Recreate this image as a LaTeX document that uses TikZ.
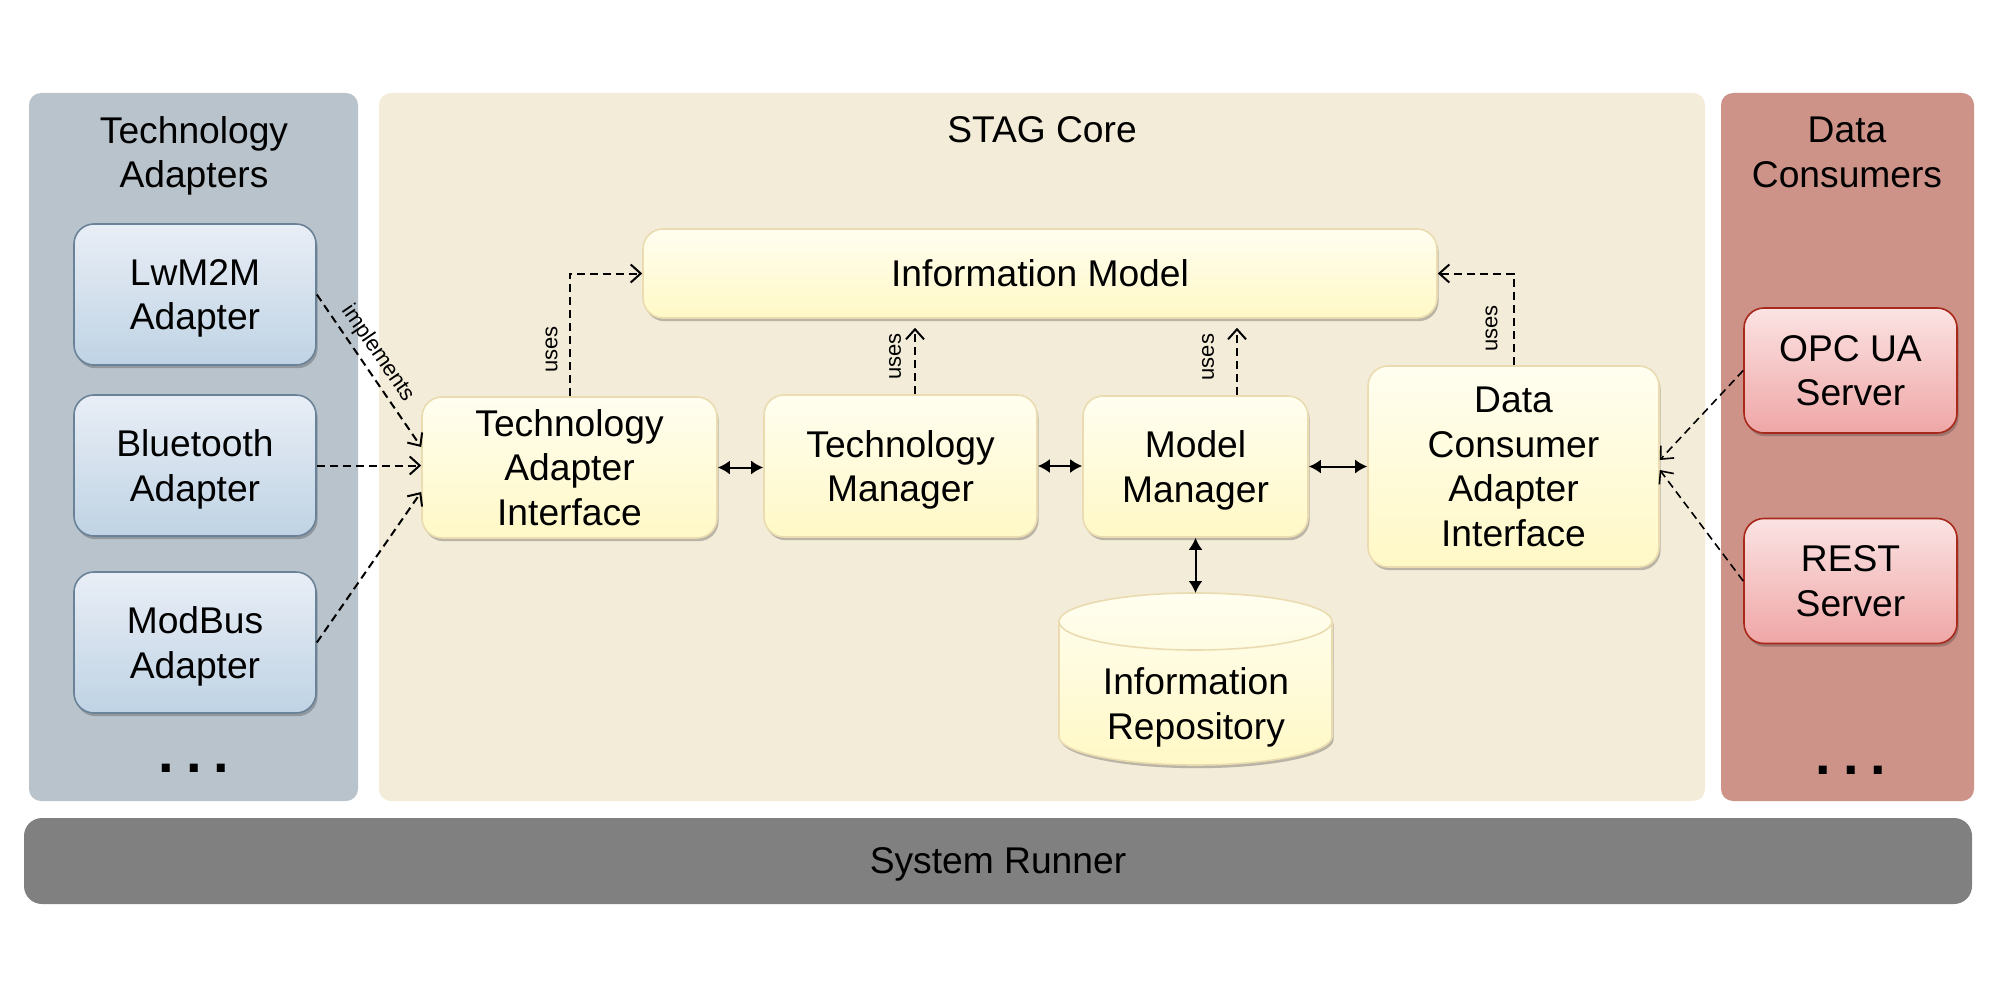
\documentclass[tikz,border=0pt]{standalone}
\usepackage{fontspec}
\setmainfont{Liberation Sans}
\usetikzlibrary{arrows.meta,shadows,calc}

\definecolor{adTop}{HTML}{E9EEF6}
\definecolor{adBot}{HTML}{BFD3E4}
\definecolor{adBorder}{HTML}{6A8298}
\definecolor{ylTop}{HTML}{FFFEF0}
\definecolor{ylBot}{HTML}{FFF8C6}
\definecolor{ylBorder}{HTML}{EADCB0}
\definecolor{rdTop}{HTML}{FBE3E3}
\definecolor{rdBot}{HTML}{EFA6A6}
\definecolor{rdBorder}{HTML}{A8281A}
\definecolor{panelA}{HTML}{B9C3CC}
\definecolor{panelB}{HTML}{F3ECD8}
\definecolor{panelC}{HTML}{CD9288}
\definecolor{runnerC}{HTML}{808080}

\begin{document}
\begin{tikzpicture}[x=0.5pt,y=-0.5pt,
  big/.style={font=\fontsize{18.6}{22.3}\selectfont, text depth=0pt},
  small/.style={font=\fontsize{11}{12}\selectfont},
  boxshadow/.style={drop shadow={shadow xshift=0.8pt, shadow yshift=-1.6pt, opacity=0.3, fill=black!80}},
  panel/.style={rounded corners=6pt, inner sep=0pt},
  boxbase/.style={big, align=center, rounded corners=10pt, line width=0.8pt, inner sep=0pt, boxshadow},
  adapter/.style={boxbase, draw=adBorder, top color=adTop, bottom color=adBot, minimum width=121pt, minimum height=70.5pt},
  corebox/.style={boxbase, draw=ylBorder, top color=ylTop, bottom color=ylBot},
  consumer/.style={boxbase, draw=rdBorder, top color=rdTop, bottom color=rdBot, minimum width=106.5pt, minimum height=62.5pt},
  dep/.style={line width=1pt, dash pattern=on 4pt off 2.5pt, -{Straight Barb[length=5pt,width=9pt,line width=1pt]}},
  depthin/.style={line width=0.8pt, dash pattern=on 4pt off 2.5pt, -{Straight Barb[length=5pt,width=9pt,line width=0.8pt]}},
  bidir/.style={line width=1pt, {Latex[length=6pt,width=7pt]}-{Latex[length=6pt,width=7pt]}},
  dots/.style={font=\fontsize{28}{28}\bfseries},
]
\useasboundingbox (0,0) rectangle (2000,1000);
\fill[white] (0,0) rectangle (2000,1000);

% panels
\node[panel, fill=panelA, minimum width=164.5pt, minimum height=354pt] (adpanel) at (193.5,447) {};
\node[panel, fill=panelB, minimum width=663pt, minimum height=354pt] (corepanel) at (1042,447) {};
\node[panel, fill=panelC, minimum width=126.5pt, minimum height=354pt] (conpanel) at (1847.5,447) {};
\node[rounded corners=9pt, fill=runnerC, minimum width=974pt, minimum height=43pt, big] (runner) at (998,861) {System Runner};

% titles
\node[big, align=center] (adtitle) at (194,152) {Technology\\Adapters};
\node[big] (coretitle) at (1042,130) {STAG Core};
\node[big, align=center] (contitle) at (1847,152) {Data\\Consumers};

% adapters
\node[adapter] (lwm2m) at (195,294.5) {LwM2M\\Adapter};
\node[adapter] (bt) at (195,465.5) {Bluetooth\\Adapter};
\node[adapter] (modbus) at (195,642.5) {ModBus\\Adapter};
\node[dots] (addots) at (194,768) {.\hspace{6pt}.\hspace{6pt}.};

% core boxes
\node[corebox, minimum width=397pt, minimum height=44.5pt] (im) at (1040,273.5) {Information Model};
\node[corebox, minimum width=147.5pt, minimum height=70.5pt] (tai) at (569.5,467.5) {Technology\\Adapter\\Interface};
\node[corebox, minimum width=136.5pt, minimum height=71pt] (tm) at (900.5,466) {Technology\\Manager};
\node[corebox, minimum width=112.5pt, minimum height=70.5pt] (mm) at (1195.5,466.5) {Model\\Manager};
\node[corebox, minimum width=145.5pt, minimum height=100.5pt] (dcai) at (1513.5,466.5) {Data\\Consumer\\Adapter\\Interface};

% repository cylinder
\path[boxshadow, draw=ylBorder, line width=0.8pt, top color=ylTop, bottom color=ylBot]
  (1059,621.5) -- (1059,736.5)
  arc[start angle=180, end angle=0, x radius=136.5, y radius=28.5]
  -- (1332,621.5)
  arc[start angle=0, end angle=-180, x radius=136.5, y radius=28.5] -- cycle;
\draw[ylBorder, line width=0.8pt] (1059,621.5) arc[start angle=180, end angle=0, x radius=136.5, y radius=28.5];
\coordinate (repotop) at (1195.5,593);
\node[big, align=center] (repo) at (1196,703.5) {Information\\Repository};

% consumers
\node[consumer] (opc) at (1850.5,370.5) {OPC UA\\Server};
\node[consumer] (rest) at (1850.5,581) {REST\\Server};
\node[dots] (condots) at (1851,770) {.\hspace{6pt}.\hspace{6pt}.};

% bidirectional arrows
\draw[bidir] (tai.east) -- (tai.east -| tm.west);
\draw[bidir] (tm.east) -- (tm.east -| mm.west);
\draw[bidir] (mm.east) -- (mm.east -| dcai.west);
\draw[bidir] (mm.south) -- (repotop);

% uses arrows
\draw[dep] (tai.north) |- node[small, sloped, above, pos=0.19, inner sep=5.5pt] {uses} (im.west);
\draw[dep] (dcai.north) |- node[small, sloped, above, pos=0.2, inner sep=7.5pt] {uses} (im.east);
\coordinate (tmu) at ([xshift=7.25pt]tm.north);
\coordinate (mmu) at ([xshift=20.75pt]mm.north);
\draw[dep, shorten >=4.5pt] (tmu) -- node[small, sloped, above, inner sep=6.5pt] {uses} (tmu |- im.south);
\draw[dep, shorten >=4.5pt] (mmu) -- node[small, sloped, above, inner sep=11pt] {uses} (mmu |- im.south);

% implements arrows
\draw[dep] (lwm2m.east) -- node[small, sloped, above, pos=0.45, inner sep=3pt] {implements} ([yshift=10.25pt]tai.west);
\draw[dep] (bt.east) -- (bt.east -| tai.west);
\draw[dep] (modbus.east) -- ([yshift=-12.25pt]tai.west);

% consumer arrows
\draw[depthin] (opc.west) -- ([yshift=3.25pt]dcai.east);
\draw[depthin] (rest.west) -- ([yshift=-1.75pt]dcai.east);
\end{tikzpicture}
\end{document}
